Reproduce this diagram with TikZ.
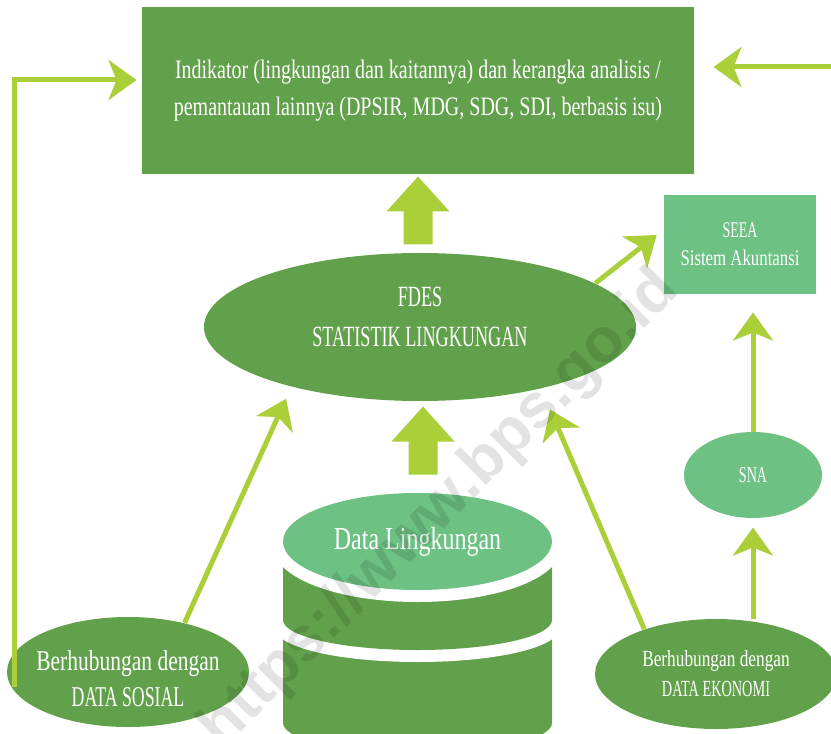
\documentclass[tikz,border=0pt]{standalone}
\usepackage{fontspec}
\setmainfont{Liberation Serif}[FakeStretch=0.75]
\newfontfamily\sempit{Liberation Serif}[FakeStretch=0.62]
\newfontfamily\wmfont{Liberation Sans}
\usetikzlibrary{arrows.meta,shapes.geometric,calc}

\definecolor{hijautua}{RGB}{98,161,75}
\definecolor{hijaumuda}{RGB}{108,193,131}
\definecolor{hijaulime}{RGB}{170,207,57}

\tikzset{every picture/.style={line width=0.75pt},
  kotak/.style={rectangle, inner sep=0.75pt, text=white, align=center},
  elips/.style={ellipse, inner sep=0.75pt, text=white, align=center},
  teks/.style={inner sep=0.75pt, text=white, align=center},
  panah/.style={draw=hijaulime, line width=3.75pt, -{Stealth[length=21pt,width=30pt,inset=6pt]}},
  cincin/.style={preaction={draw=white, line width=18pt}},
  blokpanah/.pic={\fill[hijaulime] (-14.5,0) -- (-14.5,33) -- (-31.5,33) -- (0,68) -- (31.5,33) -- (14.5,33) -- (14.5,0) -- cycle;}
}

\begin{document}
\begin{tikzpicture}[x=0.75pt,y=0.75pt,yscale=-1,xscale=1]
\useasboundingbox (0,0) rectangle (831,734);

% Kotak indikator
\node[kotak, fill=hijautua, minimum width=414pt, minimum height=125.25pt, font=\fontsize{20}{27.75}\selectfont] (indikator) at (418,90.5) {Indikator (lingkungan dan kaitannya) dan kerangka analisis /\\ pemantauan lainnya (DPSIR, MDG, SDG, SDI, berbasis isu)};
% FDES
\node[elips, fill=hijautua, minimum width=324pt, minimum height=111pt] (fdes) at (420,327) {};
\node[teks, font=\sempit\fontsize{22}{30}\selectfont] (fdesteks) at ($(fdes)+(0,-10)$) {FDES\\ STATISTIK LINGKUNGAN};
% SEEA
\node[kotak, fill=hijaumuda, minimum width=114pt, minimum height=74.25pt, font=\fontsize{16.8}{21}\selectfont] (seea) at (740,244.5) {{\sempit SEEA}\\ Sistem Akuntansi};
% SNA
\node[elips, fill=hijaumuda, minimum width=103.5pt, minimum height=64.5pt, font=\sempit\fontsize{17}{21}\selectfont] (sna) at (753,475) {SNA};
% Data sosial dan ekonomi
\node[elips, fill=hijautua, minimum width=181.5pt, minimum height=82.5pt] (sosial) at (128,672) {};
\node[teks, font=\fontsize{21.5}{27}\selectfont] (sosialteks) at ($(sosial)+(0,7)$) {Berhubungan dengan\\ {\sempit DATA SOSIAL}};
\node[elips, fill=hijautua, minimum width=181.5pt, minimum height=82.5pt, font=\fontsize{17.3}{22.5}\selectfont] (ekonomi) at (716,674) {Berhubungan dengan\\ {\sempit DATA EKONOMI}};

% Basis data
\path[fill=hijautua, cincin] (283,600) -- (283,723) arc[start angle=180, end angle=0, x radius=134.5, y radius=30] -- (552,600) -- cycle;
\path[fill=hijautua, cincin] (283,541) -- (283,620) arc[start angle=180, end angle=0, x radius=134.5, y radius=30] -- (552,541) -- cycle;
\node[elips, fill=hijaumuda, cincin, minimum width=201.75pt, minimum height=72.75pt, font=\fontsize{24}{28}\selectfont] (data) at (417.5,541.5) {Data Lingkungan};

% Panah blok
\pic at ($(fdes.north -| indikator.south)+(0,-8)$) {blokpanah};
\pic at ($(data.north)+(5.5,-18)$) {blokpanah};

% Panah
\coordinate (sudutkiri) at (14,687);
\coordinate (tepikanan) at (831,67);
\draw[panah, shorten >=3.75pt] (sudutkiri) |- ($(indikator.west)+(0,-10.5)$);
\draw[panah, shorten >=14.25pt] (tepikanan) -- (tepikanan -| indikator.east);
\draw[panah, shorten >=9.75pt] (sosial.41.7) -- (fdes.205.6);
\draw[panah, shorten >=17pt] (ekonomi.148.2) -- (fdes.333.4);
\draw[panah, shorten >=6.5pt] (fdes.14.9) -- (seea.169);
\draw[panah, shorten >=13.5pt] (sna.north) -- (sna.north |- seea.south);
\draw[panah, shorten >=6.75pt] (sna.south |- ekonomi.north) -- (sna.south);

% Tanda air
\node[rotate=45, opacity=0.11, font=\wmfont\bfseries\fontsize{47}{47}\selectfont] (tandaair) at (440,510) {https://www.bps.go.id};

\end{tikzpicture}
\end{document}
